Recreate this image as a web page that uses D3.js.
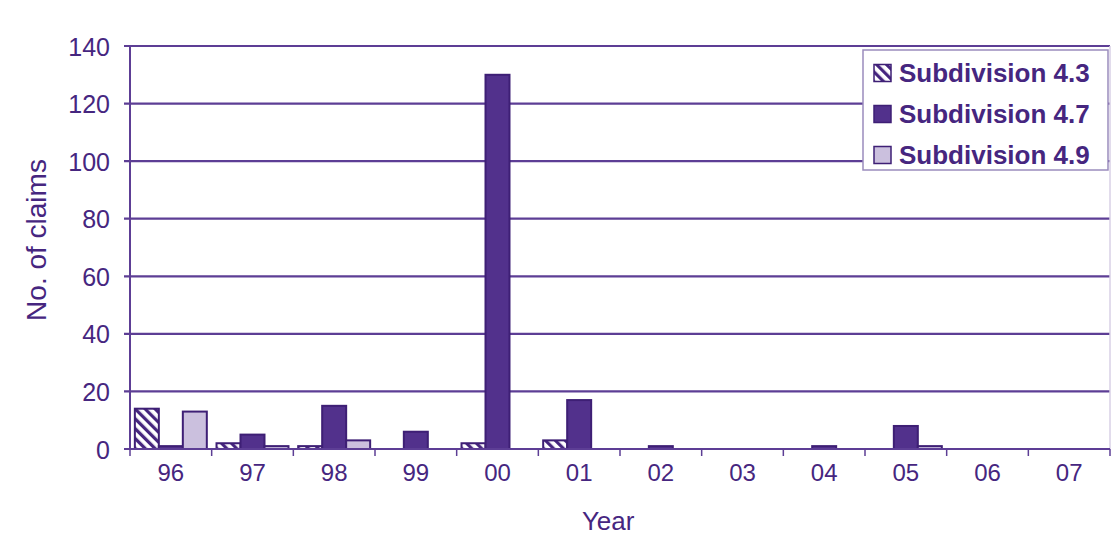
<!DOCTYPE html>
<html>
<head>
<meta charset="utf-8">
<script src="https://cdn.jsdelivr.net/npm/d3@7"></script>
<style>
  html, body { margin: 0; padding: 0; background: #ffffff; }
  svg { display: block; }
  text { font-family: "Liberation Sans", Arial, sans-serif; fill: #46267f; }
</style>
</head>
<body>
<svg id="chart" width="1112" height="541"></svg>
<script>
// Claims per year, by subdivision
const years = ["96", "97", "98", "99", "00", "01", "02", "03", "04", "05", "06", "07"];
const seriesNames = ["Subdivision 4.3", "Subdivision 4.7", "Subdivision 4.9"];
const sub43 = [14, 2, 1, 0, 2, 3, 0, 0, 0, 0, 0, 0];
const sub47 = [1, 5, 15, 6, 130, 17, 1, 0, 1, 8, 0, 0];
const sub49 = [13, 1, 3, 0, 0, 0, 0, 0, 0, 1, 0, 0];
const yTicks = [0, 20, 40, 60, 80, 100, 120, 140];

const seriesValues = [sub43, sub47, sub49];
const purple = "#46267f";
const barFill = "#52318c";
const lightFill = "#cbc0de";
const gridColor = "#5d3e95";

const svg = d3.select("#chart");
const defs = svg.append("defs");

// diagonal hatch for Subdivision 4.3
const hatch = defs.append("pattern")
  .attr("id", "hatch43")
  .attr("patternUnits", "userSpaceOnUse")
  .attr("width", 7).attr("height", 7)
  .attr("patternTransform", "rotate(-45)");
hatch.append("rect").attr("width", 7).attr("height", 7).attr("fill", "#ffffff");
hatch.append("rect").attr("x", 0).attr("y", 0).attr("width", 3.2).attr("height", 7).attr("fill", purple);

const fills = ["url(#hatch43)", barFill, lightFill];

const plot = { left: 130, right: 1110, top: 46, bottom: 449 };

const x = d3.scaleBand().domain(years).range([plot.left, plot.right]).paddingInner(0).paddingOuter(0);
const groupPad = 4.85;
const xSub = d3.scaleBand().domain(seriesNames).range([groupPad, x.bandwidth() - groupPad]).padding(0);
const y = d3.scaleLinear().domain([0, 140]).range([plot.bottom, plot.top]);

// horizontal gridlines
svg.append("g").selectAll("line").data(yTicks).join("line")
  .attr("x1", plot.left - 6).attr("x2", plot.right)
  .attr("y1", d => y(d)).attr("y2", d => y(d))
  .attr("stroke", gridColor).attr("stroke-width", 2.2);

// light right border of the plot area
svg.append("line")
  .attr("x1", plot.right).attr("x2", plot.right)
  .attr("y1", plot.top).attr("y2", plot.bottom)
  .attr("stroke", "#d8d0e6").attr("stroke-width", 1.5);

// y axis labels
const yAxis = d3.axisLeft(y).tickValues(yTicks).tickSize(0).tickPadding(20);
const yg = svg.append("g").attr("transform", `translate(${plot.left},0)`).call(yAxis);
yg.select(".domain").remove();
yg.selectAll("text").style("font-size", "25px").attr("fill", purple).attr("dy", "0.36em");

// bars
const groups = svg.append("g").selectAll("g").data(years).join("g")
  .attr("transform", d => `translate(${x(d)},0)`);

groups.selectAll("rect")
  .data((yr, i) => seriesNames.map((s, k) => ({ s, k, v: seriesValues[k][i] })).filter(d => d.v > 0))
  .join("rect")
  .attr("x", d => xSub(d.s))
  .attr("width", xSub.bandwidth())
  .attr("y", d => y(d.v))
  .attr("height", d => y(0) - y(d.v))
  .attr("fill", d => fills[d.k])
  .attr("stroke", "#3e1f75")
  .attr("stroke-width", 2);

// baseline and left axis line
svg.append("line")
  .attr("x1", plot.left).attr("x2", plot.right)
  .attr("y1", y(0)).attr("y2", y(0))
  .attr("stroke", gridColor).attr("stroke-width", 2.2);
svg.append("line")
  .attr("x1", plot.left).attr("x2", plot.left)
  .attr("y1", plot.top).attr("y2", plot.bottom)
  .attr("stroke", gridColor).attr("stroke-width", 2);

// x ticks at category boundaries
const bounds = years.map(d => x(d)).concat([plot.right]);
svg.append("g").selectAll("line").data(bounds).join("line")
  .attr("x1", d => d).attr("x2", d => d)
  .attr("y1", y(0)).attr("y2", y(0) + 7)
  .attr("stroke", gridColor).attr("stroke-width", 1.5);

// x labels
const xAxis = d3.axisBottom(x).tickSize(0).tickPadding(0);
const xg = svg.append("g").attr("transform", `translate(0,${y(0)})`).call(xAxis);
xg.select(".domain").remove();
xg.selectAll("text").style("font-size", "24px").attr("fill", purple).attr("y", 32).attr("dy", 0);

// axis titles
svg.append("text")
  .attr("x", x("01") + x.bandwidth() / 2 + 29).attr("y", 530)
  .attr("text-anchor", "middle").style("font-size", "26px")
  .text("Year");

svg.append("text")
  .attr("transform", "translate(46,240) rotate(-90)")
  .attr("text-anchor", "middle").style("font-size", "28px")
  .text("No. of claims");

// legend
const legend = svg.append("g").attr("transform", "translate(863,50)");
legend.append("rect")
  .attr("width", 245).attr("height", 120)
  .attr("fill", "#ffffff").attr("stroke", "#9a8cbd").attr("stroke-width", 1.5);

const rows = legend.selectAll("g").data(seriesNames).join("g")
  .attr("transform", (d, i) => `translate(0,${23 + i * 41})`);
rows.append("rect")
  .attr("x", 11).attr("y", -8.5).attr("width", 17).attr("height", 17)
  .attr("fill", (d, i) => fills[i]).attr("stroke", "#3e1f75").attr("stroke-width", 1.5);
rows.append("text")
  .attr("x", 36).attr("y", 0).attr("dy", "0.36em")
  .style("font-size", "26px").style("font-weight", "bold")
  .text(d => d);
</script>
</body>
</html>
